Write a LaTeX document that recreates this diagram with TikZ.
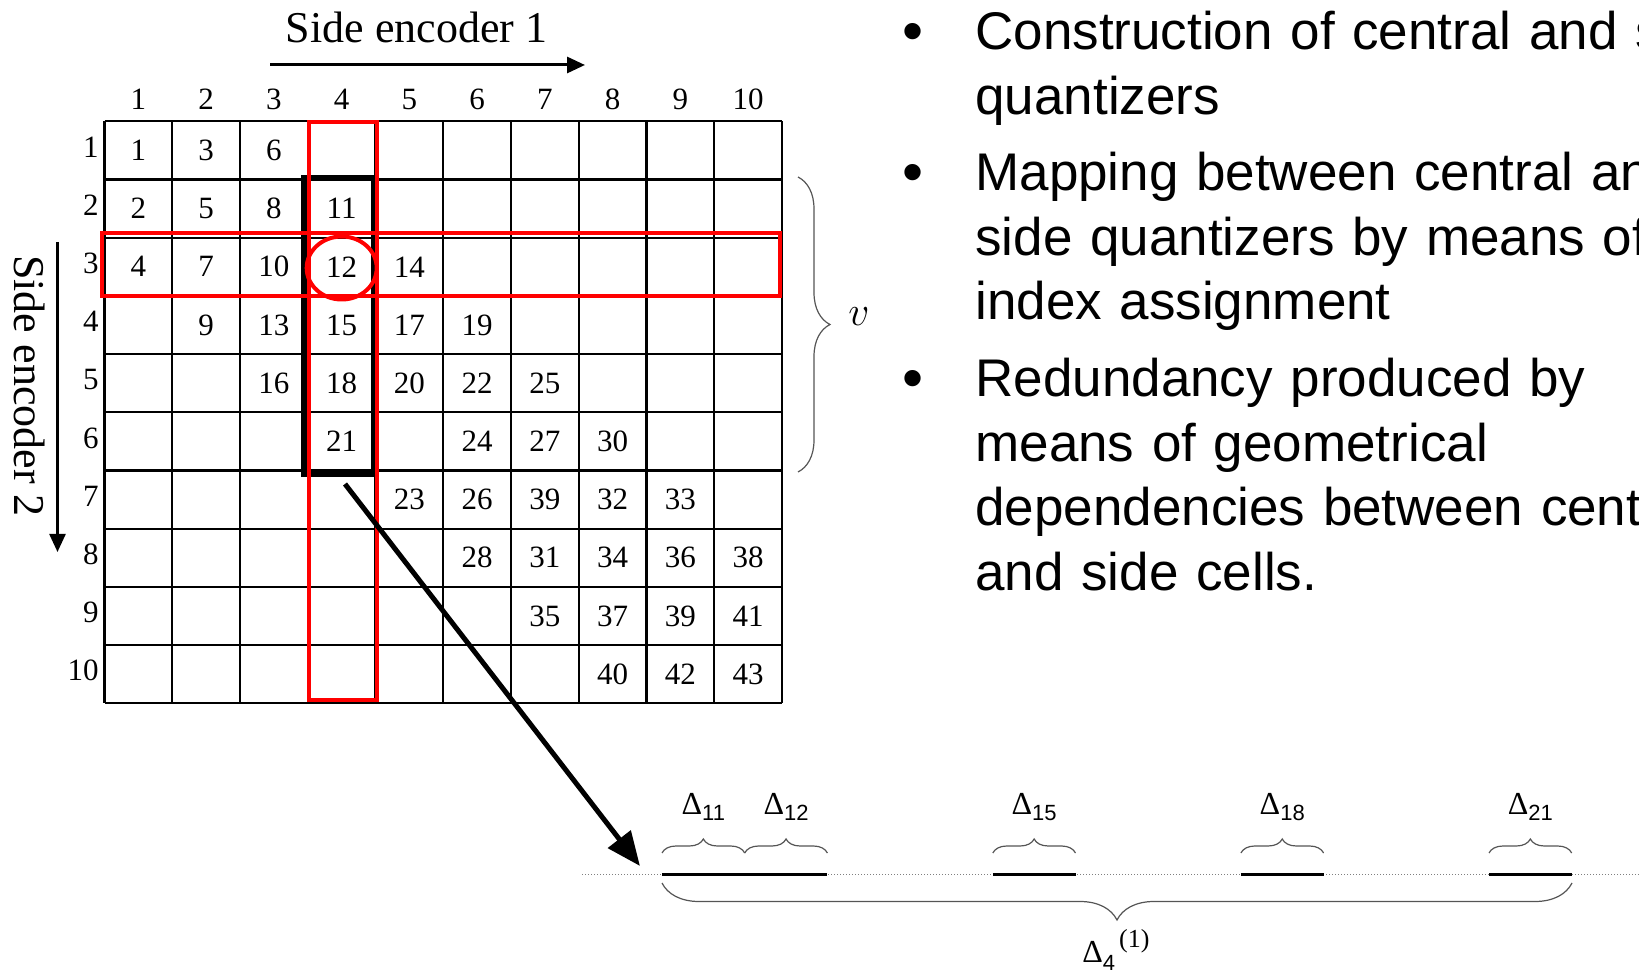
\documentclass[tikz,border=0pt]{standalone}
\usepackage{fontspec}
\setmainfont{Liberation Serif}
\newfontfamily\arialfont{Liberation Sans}
\usetikzlibrary{arrows.meta,decorations.pathreplacing}
\definecolor{qred}{RGB}{255,0,0}
\definecolor{bracegray}{RGB}{85,85,85}
\newcommand{\deltasub}[1]{Δ\raisebox{-3pt}{\fontsize{11}{11}\arialfont #1}}

\begin{document}
\begin{tikzpicture}[
  x=0.5pt,y=-0.5pt,
  num/.style={font=\fontsize{15.5}{18}\selectfont,inner sep=0pt},
  gridline/.style={line width=1.1pt},
  redbox/.style={draw=qred,line width=2pt},
  enc/.style={font=\fontsize{22}{26}\selectfont,inner sep=0pt},
  encarrow/.style={-{Triangle[length=9pt,width=8pt]},line width=1.5pt},
  bigarrow/.style={-{Triangle[length=17pt,width=14pt]},line width=2.5pt},
  bracelink/.style={decorate,decoration={brace,amplitude=#1},draw=bracegray,line width=0.6pt},
  axis/.style={densely dotted,draw=gray,line width=0.5pt},
  seg/.style={line width=1.5pt},
  dlab/.style={font=\fontsize{16}{18}\selectfont,inner sep=0pt,anchor=base},
  bullettext/.style={font=\arialfont\fontsize{26.5}{32.25}\selectfont,inner sep=0pt,
    anchor=base west,text width=20cm,align=left},
  bulletdot/.style={font=\arialfont\fontsize{30}{32}\selectfont,inner sep=0pt,anchor=base}
]
  \useasboundingbox (0,0) rectangle (1639,977);
  \clip (0,0) rectangle (1639,977);

  % index assignment matrix
  \begin{scope}[xshift=52.25pt,yshift=-60.65pt,x=33.875pt,y=-29.1pt]
    \foreach \i in {0,...,10} {
      \draw[gridline] (\i,0) -- (\i,10);
      \draw[gridline] (0,\i) -- (10,\i);
    }
    \foreach \c in {1,...,10} \node[num] (col\c) at (\c-0.5,-0.38) {\c};
    \foreach \r in {1,...,10} \node[num,anchor=east] (row\r) at (-0.08,\r-0.56) {\r};
    \foreach \r/\c/\v in {1/1/1,1/2/3,1/3/6,
        2/1/2,2/2/5,2/3/8,2/4/11,
        3/1/4,3/2/7,3/3/10,3/4/12,3/5/14,
        4/2/9,4/3/13,4/4/15,4/5/17,4/6/19,
        5/3/16,5/4/18,5/5/20,5/6/22,5/7/25,
        6/4/21,6/6/24,6/7/27,6/8/30,
        7/5/23,7/6/26,7/7/39,7/8/32,7/9/33,
        8/6/28,8/7/31,8/8/34,8/9/36,8/10/38,
        9/7/35,9/8/37,9/9/39,9/10/41,
        10/8/40,10/9/42,10/10/43}
      \node[num] (cell-\r-\c) at (\c-0.5,\r-0.5) {\v};
  \end{scope}

  \draw[line width=3pt] (304,178.5) rectangle (374,474.5);
  \draw[redbox] (309,122) rectangle (376.5,700);
  \draw[redbox] (102,233.5) rectangle (780,296);
  \draw[redbox] (341.7,268) ellipse [x radius=17.5pt,y radius=15.75pt];

  % encoders
  \node[enc,anchor=base] (enc1) at (416.5,43) {Side encoder 1};
  \coordinate (enc1a) at (270,65);
  \coordinate (enc1b) at (585,65);
  \draw[encarrow] (enc1a) -- (enc1b);
  \node[enc,rotate=-90] (enc2) at (30,386) {Side encoder 2};
  \coordinate (enc2a) at (57.5,242);
  \coordinate (enc2b) at (57.5,552);
  \draw[encarrow,line width=1.2pt] (enc2a) -- (enc2b);

  \draw[bracelink=16pt] (798,177) -- (798,472);
  \node[font=\fontsize{22}{26}\selectfont,inner sep=0pt] (vlab) at (859,317) {$v$};

  % central cells of side cell 4
  \coordinate (colfoot) at (345,484);
  \coordinate (linetip) at (640,866);
  \draw[bigarrow] (colfoot) -- (linetip);
  \coordinate (axisL) at (582,874.5);
  \coordinate (axisR) at (1639,874.5);
  \draw[axis] (axisL) -- (axisR);
  \foreach \n in {11,12,15,18,21} {
    \coordinate (s\n) at ({662+(\n-11)*82.7},874.5);
    \coordinate (e\n) at ({662+(\n-10)*82.7},874.5);
    \draw[seg] (s\n) -- (e\n);
    \draw[bracelink=7pt] ({662+(\n-11)*82.7},853) -- ({662+(\n-10)*82.7},853);
    \node[dlab] (d\n) at ({662+(\n-10.5)*82.7},815) {\deltasub{\n}};
  }
  \draw[bracelink=18.5pt] (1572,883) -- (662,883);
  \node[dlab,anchor=base west] (dfour) at (1082,963)
    {Δ\raisebox{-4pt}{\fontsize{11}{11}\arialfont 4}\kern2pt\raisebox{8pt}{\fontsize{13}{13}\selectfont(1)}};

  % bullet list
  \node[bulletdot] (b1) at (913,52) {•};
  \node[bullettext] (item1) at (975,50) {Construction of central and side\\quantizers};
  \node[bulletdot] (b2) at (913,193) {•};
  \node[bullettext] (item2) at (975,191) {Mapping between central and\\side quantizers by means of\\index assignment};
  \node[bulletdot] (b3) at (913,399) {•};
  \node[bullettext] (item3) at (975,397) {Redundancy produced by\\means of geometrical\\dependencies between central\\and side cells.};
\end{tikzpicture}
\end{document}
